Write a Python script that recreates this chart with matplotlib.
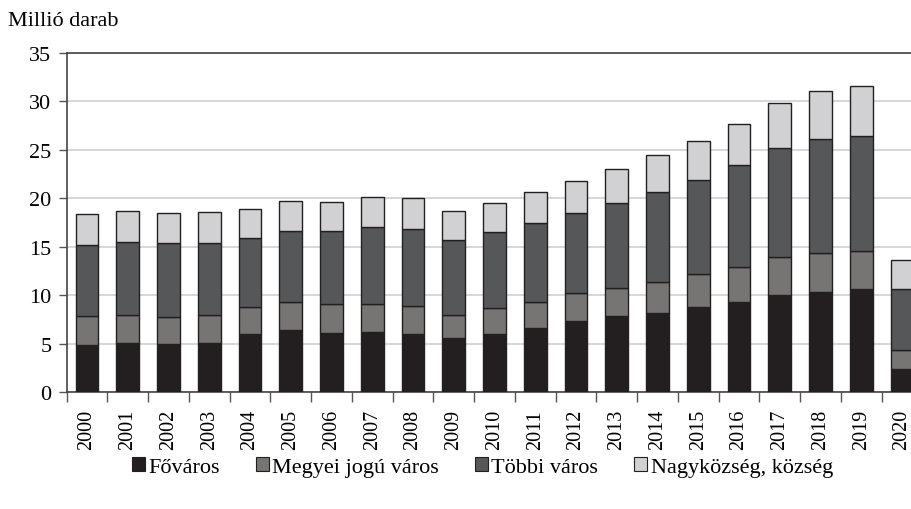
import numpy as np
import matplotlib.pyplot as plt
from matplotlib.patches import Patch

years = [str(y) for y in range(2000, 2021)]
fovaros = [4.9, 5.1, 4.95, 5.1, 6.0, 6.45, 6.1, 6.2, 6.05, 5.6, 6.0,
           6.6, 7.35, 7.85, 8.15, 8.8, 9.3, 10.05, 10.35, 10.7, 2.4]
megyei = [3.0, 2.9, 2.8, 2.85, 2.8, 2.9, 3.0, 2.95, 2.85, 2.4, 2.65,
          2.7, 2.85, 2.9, 3.2, 3.4, 3.6, 3.9, 4.05, 3.9, 2.0]
tobbi = [7.3, 7.5, 7.6, 7.45, 7.1, 7.3, 7.5, 7.85, 7.95, 7.7, 7.85,
         8.2, 8.3, 8.75, 9.3, 9.65, 10.5, 11.2, 11.75, 11.85, 6.3]
nagykozseg = [3.2, 3.2, 3.1, 3.2, 2.95, 3.05, 3.05, 3.1, 3.15, 3.0, 3.0,
              3.1, 3.3, 3.5, 3.8, 4.05, 4.25, 4.65, 4.9, 5.1, 2.95]

labels = ['Főváros', 'Megyei jogú város', 'Többi város', 'Nagyközség, község']
colors = ['#231f20', '#777474', '#555759', '#d1d1d3']
series = [fovaros, megyei, tobbi, nagykozseg]

plt.rcParams['font.family'] = ['Liberation Serif', 'DejaVu Serif']
plt.rcParams['font.size'] = 16

fig = plt.figure(figsize=(9.12, 5.1), dpi=100)
ax = fig.add_axes([0.0731, 0.2288, 0.9383, 0.6657])

x = np.arange(len(years))
bottom = np.zeros(len(years))
for vals, col, lab in zip(series, colors, labels):
    ax.bar(x, vals, 0.56, bottom=bottom, color=col, edgecolor='#231f20',
           linewidth=1.0, label=lab, zorder=3)
    bottom = bottom + np.array(vals)

ax.set_xlim(-0.5, len(years) - 0.5)
ax.set_ylim(0, 35)
ax.set_yticks(range(0, 36, 5))
ax.yaxis.grid(True, color='#cfcfcf', linewidth=1.2, zorder=0)
ax.set_axisbelow(True)

ax.set_xticks(x)
ax.set_xticklabels(years, rotation=90, fontsize=14.5)
ax.set_xticks(np.arange(-0.5, len(years), 1), minor=True)
ax.tick_params(axis='x', which='major', length=0, pad=12)
ax.tick_params(axis='x', which='minor', length=7, width=1, color='#555555')
ax.tick_params(axis='y', length=6, width=1, color='#555555', pad=5)

for s in ['left', 'bottom', 'top']:
    ax.spines[s].set_color('#444444')
    ax.spines[s].set_linewidth(1.2)
ax.spines['right'].set_visible(False)

fig.text(0.009, 0.957, 'Millió darab', ha='left', va='center', fontsize=16)

handles = [Patch(facecolor=c, edgecolor='#231f20', linewidth=0.8) for c in colors]
fig.legend(handles, labels, loc='center', bbox_to_anchor=(0.529, 0.082),
           ncol=4, frameon=False, handlelength=0.6, handleheight=0.6,
           handletextpad=0.15, columnspacing=1.6, fontsize=16)

plt.savefig('out.png', dpi=100)
